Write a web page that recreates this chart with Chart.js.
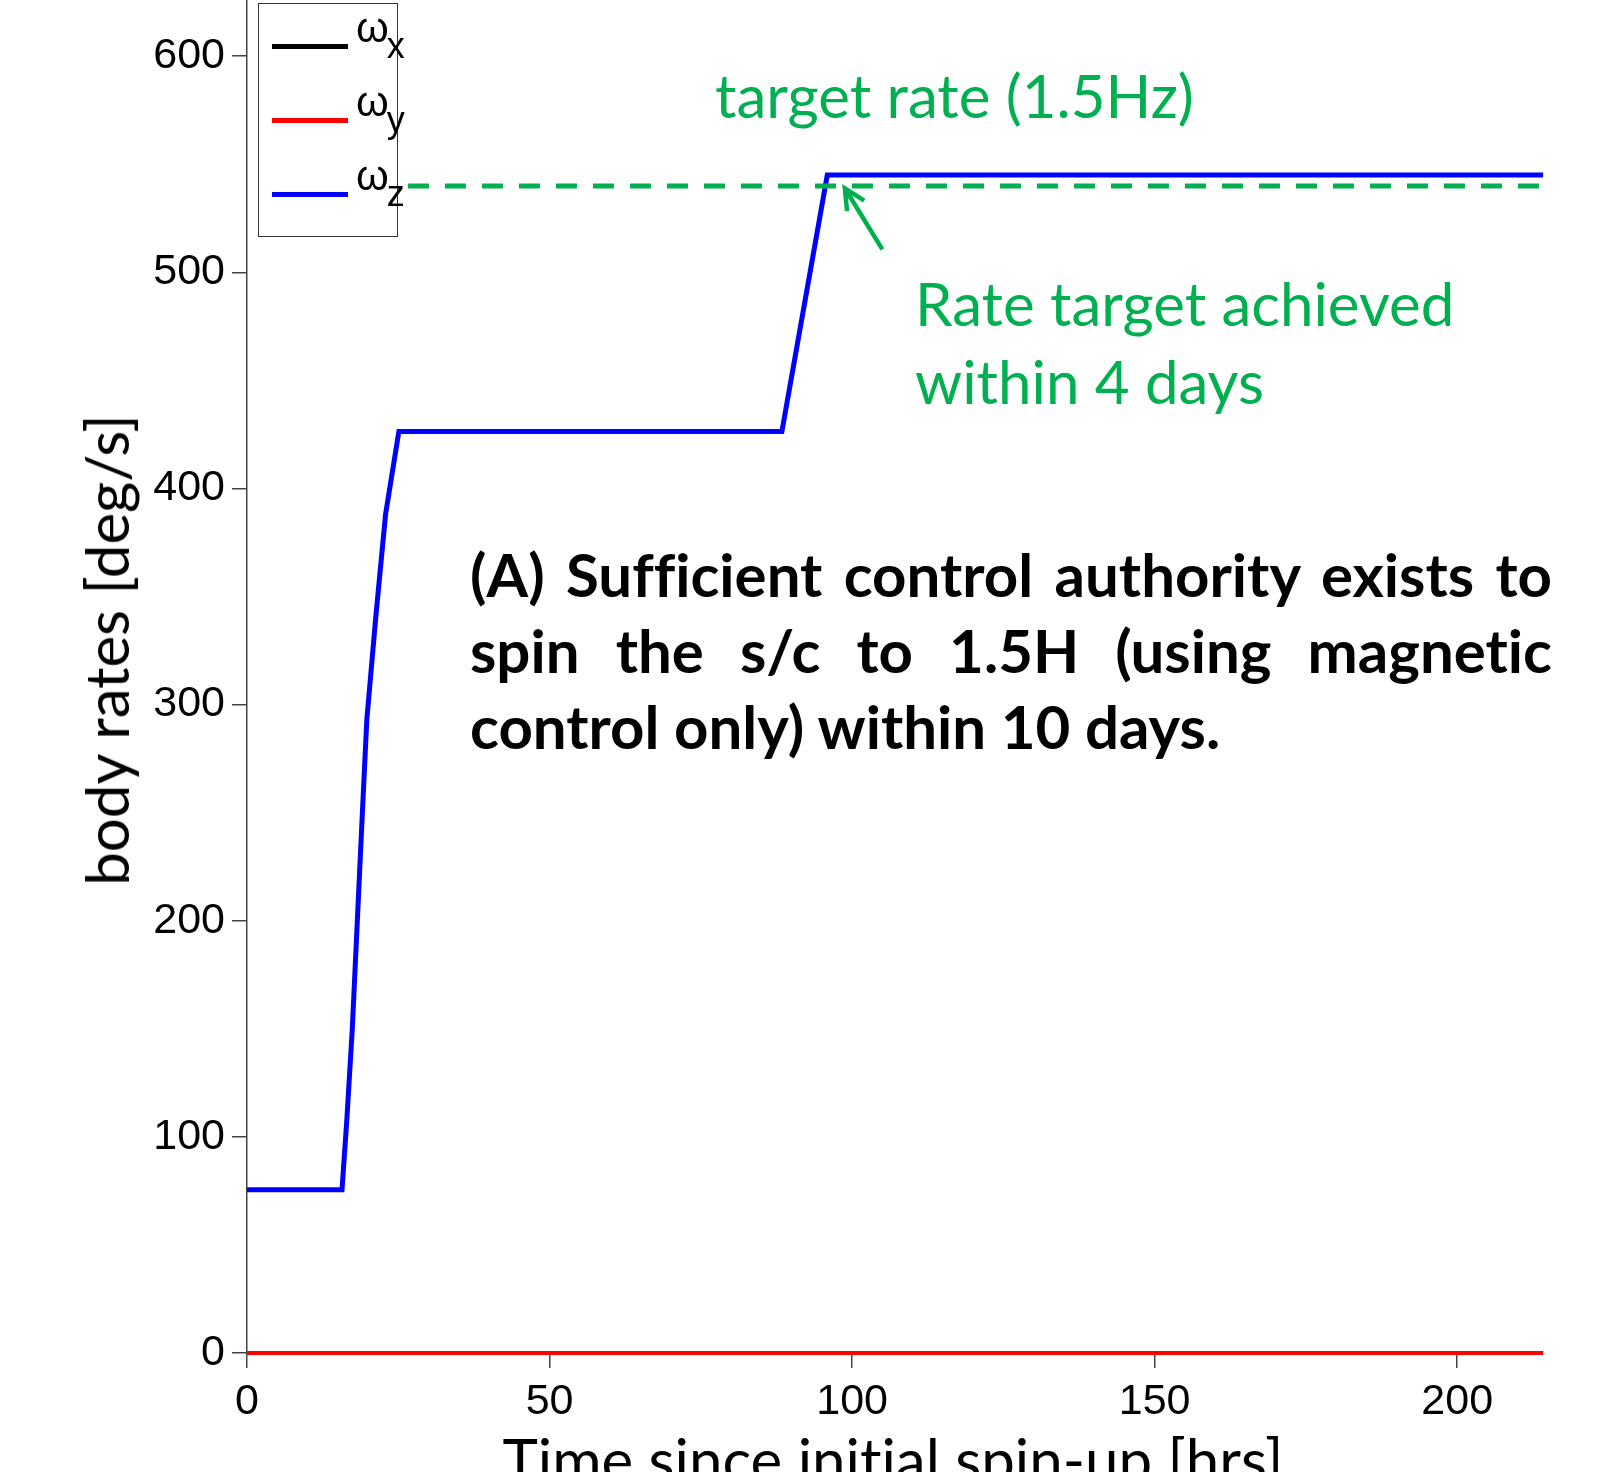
<!DOCTYPE html>
<html>
<head>
<meta charset="utf-8">
<script src="https://cdn.jsdelivr.net/npm/chart.js@4.4.1/dist/chart.umd.min.js"></script>
<style>
  html, body { margin: 0; padding: 0; background: #fff; }
  #wrap { position: relative; width: 1612px; height: 1472px; overflow: hidden; }
  #chartBox { position: absolute; left: 0; top: 0; width: 1612px; height: 1472px; }
  .txt { position: absolute; white-space: nowrap; font-family: Lato, 'Open Sans', sans-serif; font-variant-ligatures: none; }
  .green { color: #00b050; font-size: 60px; line-height: 60px; }
  #yTitle { left: 106px; top: 650px; font-size: 60px; line-height: 60px; transform: translate(-50%, -50%) rotate(-90deg); }
  #xTitle { left: 893px; top: 1429px; font-size: 60px; line-height: 60px; transform: translateX(-50%); }
  #note { position: absolute; left: 470px; top: 536px; width: 1082px; font-family: Lato, sans-serif; font-variant-ligatures: none; font-weight: bold; font-size: 60px; line-height: 76px; color: #000; }
  #note div { white-space: nowrap; }
  #note .just { white-space: normal; text-align: justify; text-align-last: justify; }
  #legend { position: absolute; left: 258px; top: 3px; width: 138px; height: 232px; border: 1.5px solid #333; background: #fff; }
  .lg-line { position: absolute; left: 13px; width: 76px; height: 5px; }
  .lg-lab { position: absolute; left: 97px; font-family: 'Liberation Sans', Arial, sans-serif; font-size: 42px; line-height: 40px; color: #000; }
  .lg-lab sub { font-size: 36px; position: relative; top: 16px; vertical-align: baseline; margin-left: -2px; }
</style>
</head>
<body>
<div id="wrap">
  <div id="chartBox"><canvas id="rates"></canvas></div>

  <div id="legend"></div>

  <div class="txt green" style="left:715px; top:65px;">target rate (1.5Hz)</div>
  <div class="txt green" style="left:915px; top:264px; line-height:78px;">Rate target achieved<br>within 4 days</div>

  <div id="note">
    <div class="just">(A) Sufficient control authority exists to</div>
    <div class="just">spin the s/c to 1.5H (using magnetic</div>
    <div>control only) within 10 days.</div>
  </div>

  <div id="yTitle" class="txt">body rates [deg/s]</div>
  <div id="xTitle" class="txt">Time since initial spin-up [hrs]</div>
</div>

<script>
/* ── data ── */
const timeZ   = [0, 15.7, 16.5, 17.4, 19.0, 19.8, 21.3, 22.9, 25.1, 88.4, 95.9, 214.2];
const omegaZ  = [75.5, 75.5, 108, 150, 246, 293, 341, 388, 426.4, 426.4, 545, 545];
const timeXY  = [0, 214.2];
const omegaX  = [0, 0];
const omegaY  = [0, 0];
const targetTime = [26.6, 215.7];
const targetRate = [540, 540];
const xTicks = [0, 50, 100, 150, 200];
const yTicks = [0, 100, 200, 300, 400, 500, 600];

// arrow from the annotation text to the point the target is reached (data units)
const arrowFrom = [105.0, 510.6];
const arrowTo   = [98.8, 538.9];

// order: lower number is drawn on top
const series = [
  { label: 'ωx', t: timeXY, v: omegaX, color: '#000000', width: 4, order: 4 },
  { label: 'ωy', t: timeXY, v: omegaY, color: '#ff0000', width: 4, order: 3 },
  { label: 'ωz', t: timeZ,  v: omegaZ, color: '#0000ff', width: 5, order: 2 },
];

const GREEN = '#00b050';
const AXIS  = '#444444';
const TICK_FONT = { family: "'Liberation Sans', Arial, sans-serif", size: 43 };

const pts = (t, v) => t.map((x, i) => ({ x, y: v[i] }));

/* ── legend (html, subscripts) ── */
const legendEl = document.getElementById('legend');
series.forEach((s, i) => {
  const top = 42 + i * 74;
  legendEl.innerHTML += `
    <div class="lg-line" style="top:${top - 2}px; background:${s.color};"></div>
    <div class="lg-lab" style="top:${top - 38}px;">ω<sub>${s.label.slice(1)}</sub></div>`;
});

/* ── arrow plugin ── */
const arrowPlugin = {
  id: 'arrow',
  afterDatasetsDraw(chart) {
    const { ctx, scales: { x, y } } = chart;
    const x0 = x.getPixelForValue(arrowFrom[0]), y0 = y.getPixelForValue(arrowFrom[1]);
    const x1 = x.getPixelForValue(arrowTo[0]),   y1 = y.getPixelForValue(arrowTo[1]);
    const ang = Math.atan2(y0 - y1, x0 - x1);
    const head = 23, spread = 26 * Math.PI / 180;
    ctx.save();
    ctx.strokeStyle = GREEN;
    ctx.lineWidth = 4.5;
    ctx.beginPath();
    ctx.moveTo(x0, y0); ctx.lineTo(x1, y1);
    ctx.moveTo(x1 + head * Math.cos(ang - spread), y1 + head * Math.sin(ang - spread));
    ctx.lineTo(x1, y1);
    ctx.lineTo(x1 + head * Math.cos(ang + spread), y1 + head * Math.sin(ang + spread));
    ctx.stroke();
    ctx.restore();
  },
};

/* ── chart ── */
new Chart(document.getElementById('rates'), {
  type: 'line',
  data: {
    datasets: [
      ...series.map(s => ({
        label: s.label,
        data: pts(s.t, s.v),
        borderColor: s.color,
        borderWidth: s.width,
        order: s.order,
        pointRadius: 0,
        tension: 0,
        clip: false,
      })),
      {
        label: 'target',
        data: pts(targetTime, targetRate),
        borderColor: GREEN,
        borderWidth: 5,
        borderDash: [21, 16],
        order: 1,
        pointRadius: 0,
        clip: false,
      },
    ],
  },
  options: {
    responsive: true,
    maintainAspectRatio: false,
    animation: false,
    layout: { padding: { top: 0, right: 58, bottom: 0, left: 0 } },
    plugins: { legend: { display: false }, tooltip: { enabled: false } },
    scales: {
      x: {
        type: 'linear', min: 0, max: 216,
        afterFit: s => { s.height = 119; s.paddingLeft = 0; s.paddingRight = 0; },
        afterBuildTicks: s => { s.ticks = xTicks.map(value => ({ value })); },
        border: { display: false },
        grid: { drawOnChartArea: false, drawTicks: true, tickLength: 15, color: AXIS, lineWidth: 1.5 },
        ticks: { color: '#000', font: TICK_FONT, padding: 8, maxRotation: 0 },
      },
      y: {
        type: 'linear', min: 0, max: 626,
        afterFit: s => { s.width = 247; s.paddingTop = 0; s.paddingBottom = 0; },
        afterBuildTicks: s => { s.ticks = yTicks.map(value => ({ value })); },
        border: { display: true, color: AXIS, width: 1.5 },
        grid: { drawOnChartArea: false, drawTicks: true, tickLength: 15, color: AXIS, lineWidth: 1.5 },
        ticks: { color: '#000', font: TICK_FONT, padding: 7 },
      },
    },
  },
  plugins: [arrowPlugin],
});
</script>
</body>
</html>
